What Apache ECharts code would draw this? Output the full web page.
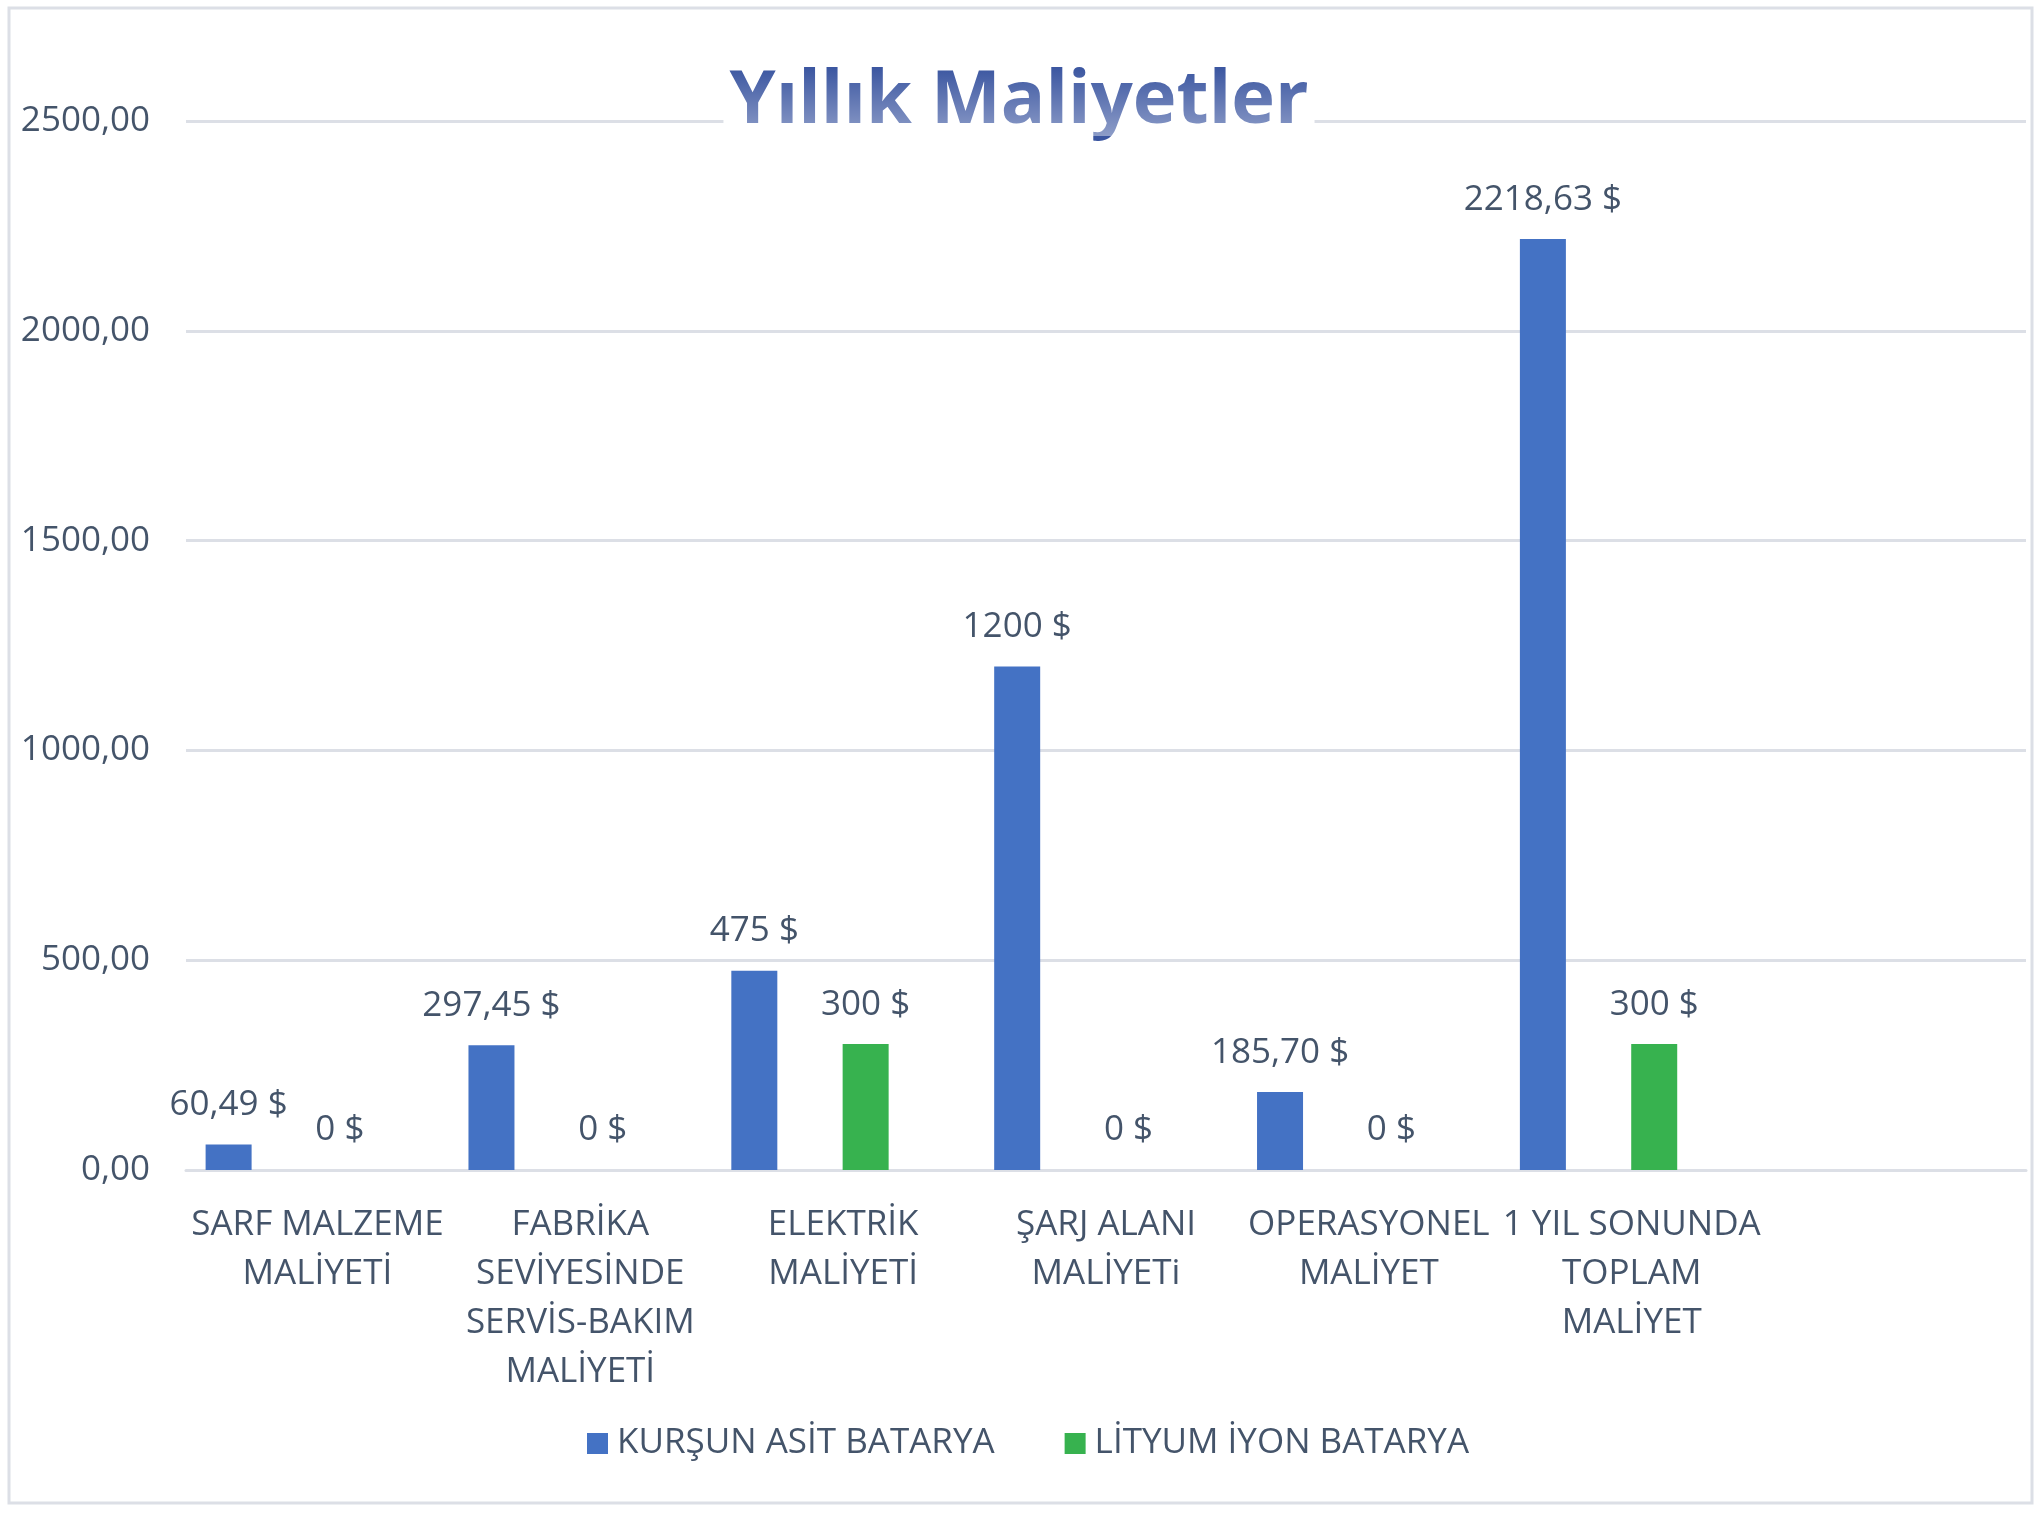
<!DOCTYPE html>
<html>
<head>
<meta charset="utf-8">
<script src="https://cdn.jsdelivr.net/npm/echarts@6/dist/echarts.min.js"></script>
<style>
  html, body { margin: 0; padding: 0; background: #ffffff; }
  #yearly-cost-chart { width: 2038px; height: 1514px; }
</style>
</head>
<body>
<div id="yearly-cost-chart"></div>
<script>
var categories = ['SARF MALZEME\nMALİYETİ', 'FABRİKA\nSEVİYESİNDE\nSERVİS-BAKIM\nMALİYETİ', 'ELEKTRİK\nMALİYETİ',
  'ŞARJ ALANI\nMALİYETi', 'OPERASYONEL\nMALİYET', '1 YIL SONUNDA\nTOPLAM\nMALİYET', ''];
var series_names = ['KURŞUN ASİT BATARYA', 'LİTYUM İYON BATARYA'];
var lead_acid = [60.49, 297.45, 475, 1200, 185.70, 2218.63];
var lead_acid_decimals = [2, 2, 0, 0, 2, 2];
var lithium_ion = [0, 0, 300, 0, 0, 300];
var lithium_ion_decimals = [0, 0, 0, 0, 0, 0];
var y_ticks = [0, 500, 1000, 1500, 2000, 2500];

var text_color = '#44546a';
var font = '"Open Sans", "Noto Sans", sans-serif';

function money(values, decimals) {
  return function (p) {
    return values[p.dataIndex].toFixed(decimals[p.dataIndex]).replace('.', ',') + ' $';
  };
}

function draw_yearly_cost_chart() {
  var chart = echarts.init(document.getElementById('yearly-cost-chart'));
  var label_style = {
    show: true,
    position: 'top',
    distance: 22,
    color: text_color,
    fontFamily: font,
    fontSize: 35
  };
  var option = {
    animation: false,
    backgroundColor: '#ffffff',
    title: {
      text: 'Yıllık Maliyetler',
      left: 'center',
      top: 57,
      padding: [0, 6],
      backgroundColor: '#ffffff',
      textStyle: {
        fontFamily: font,
        fontWeight: 'bold',
        fontSize: 74,
        lineHeight: 90,
        color: '#3a55a0'
      }
    },
    legend: {
      data: series_names,
      left: 582,
      top: 1421,
      icon: 'rect',
      itemWidth: 21,
      itemHeight: 21,
      itemGap: 70,
      textStyle: {
        color: text_color,
        fontFamily: font,
        fontSize: 35,
        padding: [0, 0, 0, 4]
      }
    },
    grid: {
      left: 186,
      right: 12,
      top: 121,
      bottom: 344,
      containLabel: false
    },
    xAxis: {
      type: 'category',
      data: categories,
      axisTick: { show: false },
      axisLine: { lineStyle: { color: '#dcdfe6', width: 3 } },
      axisLabel: {
        interval: 0,
        margin: 31,
        color: text_color,
        fontFamily: font,
        fontSize: 35,
        lineHeight: 49,
        align: 'center'
      }
    },
    yAxis: {
      type: 'value',
      min: y_ticks[0],
      max: y_ticks[y_ticks.length - 1],
      interval: 500,
      axisLine: { show: false },
      axisTick: { show: false },
      splitLine: { lineStyle: { color: '#dcdfe6', width: 3 } },
      axisLabel: {
        margin: 36,
        color: text_color,
        fontFamily: font,
        fontSize: 35,
        formatter: function (v) {
          return v.toFixed(2).replace('.', ',');
        }
      }
    },
    series: [{
      name: series_names[0],
      type: 'bar',
      data: lead_acid,
      barWidth: 46,
      barGap: '142%',
      itemStyle: { color: '#4472c4' },
      label: Object.assign({}, label_style, { formatter: money(lead_acid, lead_acid_decimals) })
    }, {
      name: series_names[1],
      type: 'bar',
      data: lithium_ion,
      barWidth: 46,
      barGap: '142%',
      itemStyle: { color: '#37b24f' },
      label: Object.assign({}, label_style, { formatter: money(lithium_ion, lithium_ion_decimals) })
    }, {
      // empty third series, keeps the two real bars left of the category centre
      name: 'bos',
      type: 'bar',
      data: [],
      barWidth: 0.01,
      barGap: '142%'
    }],
    graphic: [{
      type: 'rect',
      silent: true,
      z: -1,
      shape: { x: 9, y: 8, width: 2023, height: 1495 },
      style: { fill: null, stroke: '#dcdfe6', lineWidth: 3 }
    }, {
      // white wash over the lower half of the title letters -> blue gradient look
      type: 'rect',
      silent: true,
      z: 100,
      shape: { x: 728, y: 66, width: 582, height: 70 },
      style: {
        fill: {
          type: 'linear', x: 0, y: 0, x2: 0, y2: 1,
          colorStops: [
            { offset: 0, color: 'rgba(255,255,255,0)' },
            { offset: 1, color: 'rgba(255,255,255,0.42)' }
          ]
        }
      }
    }]
  };
  chart.setOption(option);
  window.addEventListener('resize', function () {
    chart.resize();
  });
}

draw_yearly_cost_chart();
</script>
</body>
</html>
